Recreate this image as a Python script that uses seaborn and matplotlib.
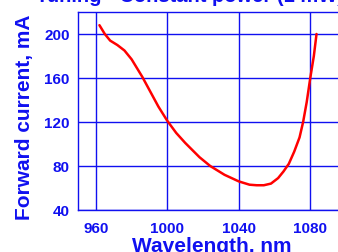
import matplotlib
matplotlib.use("Agg")
import matplotlib.pyplot as plt
import seaborn as sns
import pandas as pd

wavelength = [962, 965, 968, 972, 976, 980, 986, 990, 995, 1000, 1005, 1010, 1018, 1024,
              1032, 1040, 1046, 1050, 1054, 1058, 1062, 1065, 1068, 1071, 1074, 1076,
              1078, 1080, 1082, 1083.5]
current = [208, 200, 194, 190, 185, 177, 161, 149, 134, 121, 110, 101, 88, 80,
           72, 66, 63, 62.5, 62.5, 64, 69, 75, 82, 93, 106, 120,
           138, 160, 180, 200]
xticks = [960, 1000, 1040, 1080]
yticks = [40, 80, 120, 160, 200]

sns.set_style("white")
plt.rcParams['font.family'] = ['Liberation Sans', 'DejaVu Sans']

BLUE = "#1010f0"
df = pd.DataFrame({"Wavelength": wavelength, "Current": current})

fig = plt.figure(figsize=(3.38, 2.53), dpi=100)
ax = fig.add_axes([78/338, 42/253, 268/338, 198/253])
sns.lineplot(data=df, x="Wavelength", y="Current", ax=ax, color="#ff0000", lw=1.8, zorder=3)

ax.set_xlim(950, 1100)
ax.set_ylim(40, 220)
ax.set_xticks(xticks)
ax.set_yticks(yticks)
ax.set_xticks([980, 1020, 1060], minor=True)
ax.set_yticks([60, 100, 140, 180], minor=True)
ax.grid(True, which="major", color=BLUE, lw=1.0)
for s in ax.spines.values():
    s.set_color(BLUE)
    s.set_linewidth(1.0)
ax.tick_params(axis="x", which="major", direction="in", length=0, pad=8,
               labelsize=11, labelcolor=BLUE, colors=BLUE)
ax.tick_params(axis="x", which="minor", direction="in", length=2.5, width=1, colors=BLUE)
ax.tick_params(axis="y", which="major", direction="out", length=4, width=1, pad=2,
               labelsize=11, labelcolor=BLUE, colors=BLUE)
ax.tick_params(axis="y", which="minor", direction="out", length=3, width=1, colors=BLUE)
for lab in ax.get_xticklabels() + ax.get_yticklabels():
    lab.set_fontweight("bold")

ax.set_xlabel("")
ax.set_ylabel("")
fig.text(212/338, 1 - 247/253, "Wavelength, nm", ha="center", va="center",
         fontsize=15, fontweight="bold", color=BLUE)
fig.text(25/338, 1 - 117/253, "Forward current, mA", ha="center", va="center",
         rotation=90, fontsize=15, fontweight="bold", color=BLUE)
fig.text(36/338, 1 - 2.5/253, "Tuning - Constant power (1 mW)", ha="left", va="baseline",
         fontsize=14.5, fontweight="bold", color=BLUE)

fig.savefig("out.png", dpi=100)
